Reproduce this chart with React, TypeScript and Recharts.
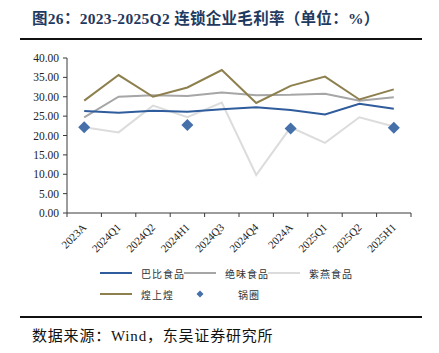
import React from 'react';
import { LineChart, Line, XAxis, YAxis } from 'recharts';

const categories = ['2023A', '2024Q1', '2024Q2', '2024H1', '2024Q3', '2024Q4', '2024A', '2025Q1', '2025Q2', '2025H1'];
const babi = [26.3, 25.9, 26.4, 26.1, 26.8, 27.3, 26.6, 25.4, 28.2, 26.9];
const juewei = [24.7, 30.0, 30.4, 30.2, 31.1, 30.4, 30.5, 30.8, 29.0, 29.9];
const ziyan = [22.1, 20.8, 27.7, 24.7, 28.5, 9.8, 22.1, 18.1, 24.7, 22.3];
const huangshanghuang = [29.0, 35.6, 30.0, 32.4, 36.9, 28.4, 32.8, 35.2, 29.3, 31.9];
const guoquan: (number | null)[] = [22.1, null, null, 22.7, null, null, 21.8, null, null, 22.0];
const yTicks = [0, 5, 10, 15, 20, 25, 30, 35, 40];

const seriesNames = ['巴比食品', '绝味食品', '紫燕食品', '煌上煌', '锅圈'];
const COLORS = ['#2F5C9C', '#A6A6A6', '#DCDCDC', '#8E804E', '#4570AA'];

const data = categories.map((c, i) => ({
  name: c,
  babi: babi[i],
  juewei: juewei[i],
  ziyan: ziyan[i],
  huang: huangshanghuang[i],
  guoquan: guoquan[i],
}));

const W = 439;
const H = 353;
const M = { top: 58, right: 28, left: 7, bottom: 80 };
const YW = 60;
const PLOT_W = W - M.left - M.right - YW;
const BAND = PLOT_W / categories.length;
const AXIS = '#3a3a3a';
const SERIF = '"Liberation Serif", "Times New Roman", "Noto Sans CJK SC", serif';
const CJK = '"Liberation Serif", "Noto Sans CJK SC", serif';

const XTick = (props: any) => {
  const { x, y, payload, index } = props;
  const ay = y - 4;
  return (
    <g>
      <line x1={x - BAND / 2} y1={ay} x2={x - BAND / 2} y2={ay + 4} stroke={AXIS} />
      {index === categories.length - 1 && (
        <line x1={x + BAND / 2} y1={ay} x2={x + BAND / 2} y2={ay + 4} stroke={AXIS} />
      )}
      <text
        x={x + 3}
        y={ay + 15}
        transform={`rotate(-45 ${x + 3} ${ay + 15})`}
        textAnchor="end"
        fontSize={11}
        fontFamily={SERIF}
        fill="#222"
      >
        {payload.value}
      </text>
    </g>
  );
};

const Diamond = (props: any) => {
  const { cx, cy, payload } = props;
  if (cy == null || payload.guoquan == null) return <g key={props.index} />;
  const r = 6;
  return (
    <path
      key={props.index}
      d={`M${cx},${cy - r} L${cx + r},${cy} L${cx},${cy + r} L${cx - r},${cy} Z`}
      fill={COLORS[4]}
    />
  );
};

const LegendItem = ({ color, label, x, y, diamond }: any) => (
  <div style={{ position: 'absolute', left: x, top: y, display: 'flex', alignItems: 'center', height: 14 }}>
    <svg width={36} height={14} style={{ display: 'block' }}>
      {diamond ? (
        <path d="M18,3.5 L21.5,7 L18,10.5 L14.5,7 Z" fill={color} />
      ) : (
        <line x1={0} y1={7} x2={32} y2={7} stroke={color} strokeWidth={2} />
      )}
    </svg>
    <span style={{ fontFamily: CJK, fontSize: 10, color: '#333', letterSpacing: 1, marginLeft: diamond ? 20 : 5, whiteSpace: 'nowrap' }}>
      {label}
    </span>
  </div>
);

export default function App() {
  return (
    <div style={{ position: 'absolute', left: 0, top: 0, width: W, height: H, background: '#fff' }}>
      <div
        style={{
          position: 'absolute',
          left: 32,
          top: 6,
          fontFamily: CJK,
          fontWeight: 'bold',
          fontSize: 15.5,
          color: '#1F3A60',
          whiteSpace: 'nowrap',
          letterSpacing: 0.3,
        }}
      >
        图26：2023-2025Q2 连锁企业毛利率（单位：%）
      </div>
      <div style={{ position: 'absolute', left: 20, top: 37.5, width: 402, height: 2, background: '#111' }} />
      <div style={{ position: 'absolute', left: 0, top: 0 }}>
        <LineChart width={W} height={H} data={data} margin={M}>
          <XAxis
            dataKey="name"
            type="category"
            interval={0}
            padding={{ left: BAND / 2, right: BAND / 2 }}
            tickLine={false}
            tickSize={4}
            tickMargin={0}
            axisLine={{ stroke: AXIS }}
            tick={<XTick />}
            height={80 - 20}
          />
          <YAxis
            domain={[0, 40]}
            ticks={yTicks}
            interval={0}
            width={YW}
            tickSize={4}
            tickMargin={4}
            axisLine={{ stroke: AXIS }}
            tickLine={{ stroke: AXIS }}
            tickFormatter={(v: number) => v.toFixed(2)}
            tick={{ fontSize: 11.5, fontFamily: SERIF, fill: '#222' }}
          />
          <Line dataKey="juewei" name={seriesNames[1]} stroke={COLORS[1]} strokeWidth={2} dot={false} isAnimationActive={false} />
          <Line dataKey="ziyan" name={seriesNames[2]} stroke={COLORS[2]} strokeWidth={2} dot={false} isAnimationActive={false} />
          <Line dataKey="huang" name={seriesNames[3]} stroke={COLORS[3]} strokeWidth={2} dot={false} isAnimationActive={false} />
          <Line dataKey="babi" name={seriesNames[0]} stroke={COLORS[0]} strokeWidth={2} dot={false} isAnimationActive={false} />
          <Line
            dataKey="guoquan"
            name={seriesNames[4]}
            stroke="none"
            dot={<Diamond />}
            activeDot={false}
            isAnimationActive={false}
          />
        </LineChart>
      </div>
      <LegendItem color={COLORS[0]} label={seriesNames[0]} x={100} y={266} />
      <LegendItem color={COLORS[1]} label={seriesNames[1]} x={184} y={266} />
      <LegendItem color={COLORS[2]} label={seriesNames[2]} x={268} y={266} />
      <LegendItem color={COLORS[3]} label={seriesNames[3]} x={100} y={287} />
      <LegendItem color={COLORS[4]} label={seriesNames[4]} x={182} y={287} diamond />
      <div style={{ position: 'absolute', left: 20, top: 315.5, width: 402, height: 2, background: '#111' }} />
      <div
        style={{
          position: 'absolute',
          left: 32,
          top: 324,
          fontFamily: CJK,
          fontSize: 15,
          color: '#111',
          whiteSpace: 'nowrap',
          letterSpacing: 0.8,
        }}
      >
        数据来源：Wind，东吴证券研究所
      </div>
    </div>
  );
}
